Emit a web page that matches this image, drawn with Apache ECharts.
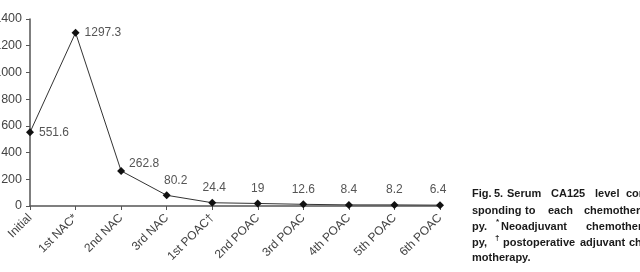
<!DOCTYPE html>
<html>
<head>
<meta charset="utf-8">
<script src="https://cdn.jsdelivr.net/npm/echarts@6/dist/echarts.min.js"></script>
<style>
html,body{margin:0;padding:0;background:#fff;}
#c{width:640px;height:272px;}
</style>
</head>
<body>
<div id="c"></div>
<script>
var categories = ['Initial', '1st NAC*', '2nd NAC', '3rd NAC', '1st POAC\u2020', '2nd POAC', '3rd POAC', '4th POAC', '5th POAC', '6th POAC'];
var values = [551.6, 1297.3, 262.8, 80.2, 24.4, 19, 12.6, 8.4, 8.2, 6.4];
var yMin = 0, yMax = 1400, yStep = 200;
var captionLines = [
  ['Fig.', '5.', 'Serum', 'CA125', 'level', 'corre-'],
  ['sponding', 'to', 'each', 'chemothera-'],
  ['py.', '*', 'Neoadjuvant', 'chemothera-'],
  ['py,', '\u2020', 'postoperative', 'adjuvant', 'che-'],
  ['motherapy.']
];

var wordX = [
  [472, 494, 507, 551, 595, 626],
  [472, 525, 548, 584],
  [472, 496, 501, 586],
  [472, 495, 503, 580, 629],
  [472]
];
var lineY = [194, 211, 227, 243, 258];

var captionFont = '"Liberation Sans", Arial, sans-serif';
var graphics = [];
captionLines.forEach(function (words, li) {
  words.forEach(function (w, wi) {
    var sup = (w === '*' || w === '\u2020');
    graphics.push({
      type: 'text',
      x: wordX[li][wi],
      y: lineY[li] - (sup ? 5 : 0),
      style: {
        text: w,
        fill: '#1a1a1a',
        verticalAlign: 'middle',
        align: 'left',
        font: 'bold ' + (sup ? 8 : 11) + 'px ' + captionFont
      }
    });
  });
});

var labelCfg = [
  {position: 'right', distance: 5},
  {position: 'right', distance: 5},
  {position: 'right', distance: 4, offset: [0, -7]},
  {position: 'top', distance: 5, offset: [9, 0]},
  {position: 'top', distance: 5, offset: [2, 0]},
  {position: 'top', distance: 5},
  {position: 'top', distance: 5},
  {position: 'top', distance: 5},
  {position: 'top', distance: 5},
  {position: 'top', distance: 5, offset: [-2, 0]}
];

var seriesData = values.map(function (v, i) {
  return {value: v, label: labelCfg[i]};
});

var chart = echarts.init(document.getElementById('c'), null, {renderer: 'canvas'});
chart.setOption({
  animation: false,
  backgroundColor: '#fff',
  grid: {left: 30, right: 200, top: 19, bottom: 66, containLabel: false, outerBoundsMode: 'none'},
  xAxis: {
    type: 'category',
    data: categories,
    boundaryGap: false,
    axisLine: {lineStyle: {color: '#555', width: 1.5}},
    axisTick: {show: true, length: 4, lineStyle: {color: '#555'}},
    axisLabel: {
      rotate: 45,
      margin: 10,
      color: '#444',
      fontSize: 12,
      fontFamily: '"Liberation Sans", Arial, sans-serif',
      interval: 0
    },
    splitLine: {show: false}
  },
  yAxis: {
    type: 'value',
    min: yMin,
    max: yMax,
    interval: yStep,
    axisLine: {show: true, lineStyle: {color: '#555', width: 1.5}},
    axisTick: {show: true, length: 4, lineStyle: {color: '#555'}},
    axisLabel: {
      margin: 8,
      color: '#444',
      fontSize: 12.5,
      fontFamily: '"Liberation Sans", Arial, sans-serif',
      formatter: function (v) { return String(v); }
    },
    splitLine: {show: false}
  },
  series: [{
    type: 'line',
    data: seriesData,
    symbol: 'diamond',
    symbolSize: 8,
    itemStyle: {color: '#111'},
    lineStyle: {color: '#333', width: 1},
    label: {
      show: true,
      color: '#555',
      fontSize: 12,
      fontFamily: '"Liberation Sans", Arial, sans-serif'
    }
  }],
  graphic: graphics
});
</script>
</body>
</html>
